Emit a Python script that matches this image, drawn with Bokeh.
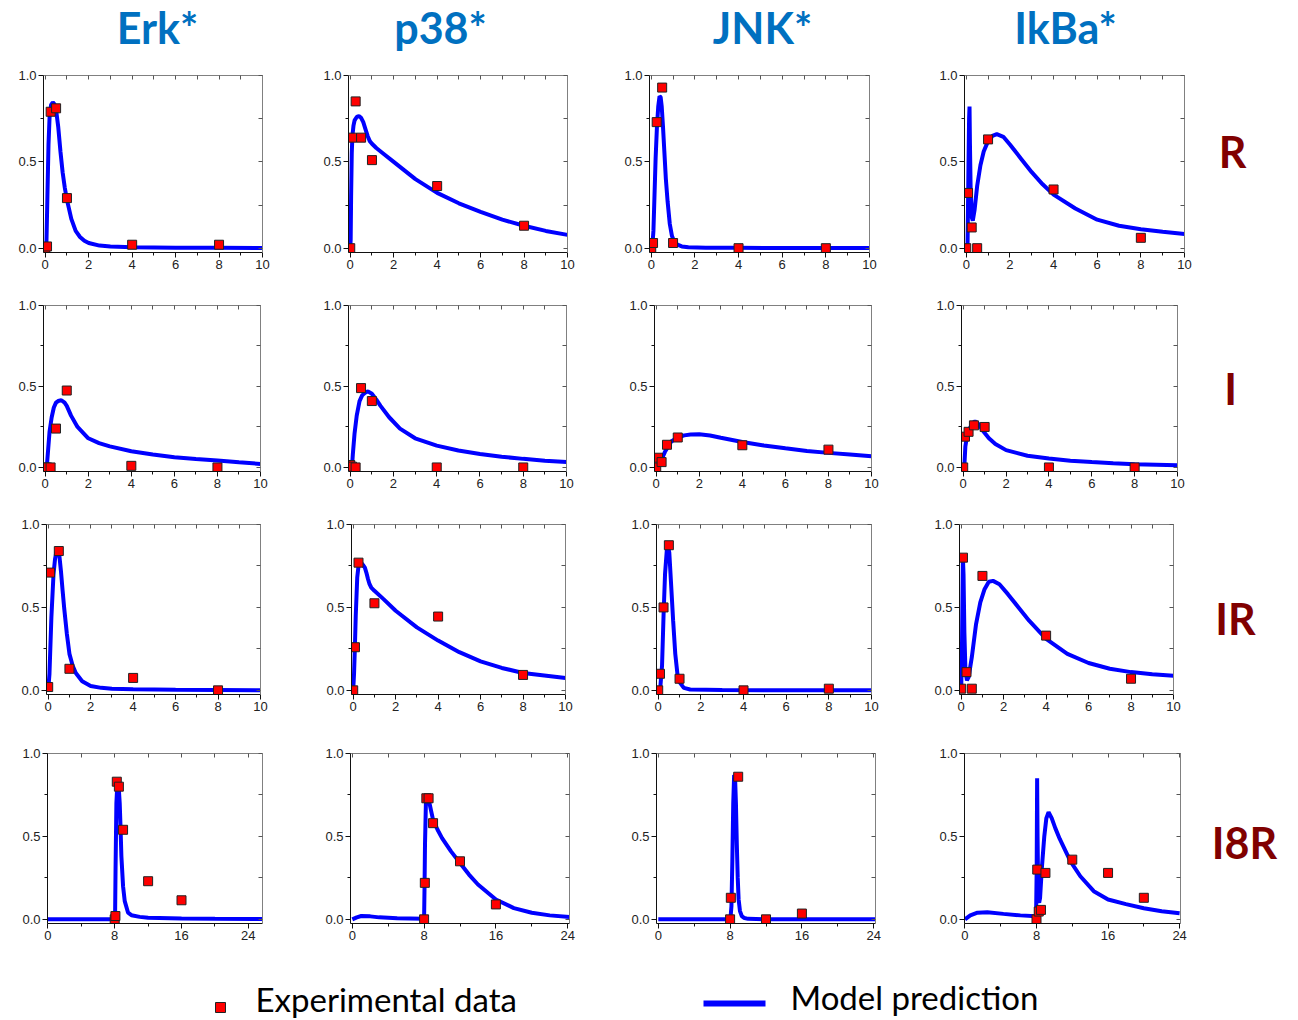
from bokeh.plotting import figure
from bokeh.layouts import row, column
from bokeh.models import Range1d, FixedTicker, LinearAxis, NumeralTickFormatter
from bokeh.core.properties import value
from bokeh.embed import file_html
from bokeh.resources import INLINE

# ---------------- data ----------------
PROTEINS = ["Erk*", "p38*", "JNK*", "IkBa*"]
CONDITIONS = ["R", "I", "IR", "I8R"]
X_TICKS_SHORT = [0, 2, 4, 6, 8, 10]
X_MINOR_SHORT = [1, 3, 5, 7, 9]
X_TICKS_LONG = [0, 8, 16, 24]
X_MINOR_LONG = [4, 12, 20]
Y_TICKS = [0, 0.5, 1.0]
Y_MINOR = [0.25, 0.75]

T_STD = [0, 0.083, 0.25, 0.5, 1, 4, 8]

# --- R ---
ERK_R_Y = [0.0, 0.01, 0.79, 0.81, 0.29, 0.02, 0.02]
P38_R_Y = [0.0, 0.64, 0.85, 0.64, 0.51, 0.36, 0.13]
JNK_R_Y = [0.0, 0.03, 0.73, 0.93, 0.03, 0.0, 0.0]
IKBA_R_Y = [0.0, 0.32, 0.12, 0.0, 0.63, 0.34, 0.06]

ERK_R_CT = [0, 0.05, 0.1, 0.15, 0.2, 0.27, 0.35, 0.42, 0.5, 0.6, 0.7, 0.8, 0.9, 1.0, 1.2, 1.4, 1.6, 1.8, 2.0, 2.5, 3.0, 4.0, 6.0, 8.0, 10.0]
ERK_R_CY = [0, 0.0, 0.3, 0.6, 0.76, 0.83, 0.845, 0.835, 0.80, 0.70, 0.56, 0.44, 0.35, 0.28, 0.17, 0.10, 0.065, 0.043, 0.03, 0.015, 0.01, 0.006, 0.003, 0.002, 0.001]
P38_R_CT = [0, 0.02, 0.04, 0.07, 0.1, 0.15, 0.2, 0.3, 0.4, 0.5, 0.6, 0.7, 0.8, 0.9, 1.0, 1.2, 1.5, 2, 3, 4, 5, 6, 7, 8, 9, 10]
P38_R_CY = [0, 0.05, 0.3, 0.55, 0.65, 0.71, 0.74, 0.76, 0.765, 0.755, 0.73, 0.69, 0.65, 0.62, 0.605, 0.58, 0.55, 0.50, 0.40, 0.32, 0.26, 0.21, 0.165, 0.13, 0.10, 0.077]
JNK_R_CT = [0, 0.05, 0.1, 0.15, 0.2, 0.26, 0.32, 0.38, 0.43, 0.48, 0.54, 0.6, 0.67, 0.75, 0.85, 0.95, 1.05, 1.2, 1.4, 1.7, 2.5, 4, 6, 8, 10]
JNK_R_CY = [0, 0.01, 0.1, 0.31, 0.52, 0.7, 0.82, 0.88, 0.875, 0.82, 0.70, 0.56, 0.40, 0.27, 0.14, 0.07, 0.04, 0.02, 0.01, 0.005, 0.003, 0.002, 0.001, 0.001, 0.001]
IKBA_R_CT = [0, 0.06, 0.1, 0.13, 0.15, 0.17, 0.2, 0.25, 0.3, 0.38, 0.5, 0.65, 0.8, 1.0, 1.2, 1.4, 1.7, 2.0, 2.5, 3.0, 3.5, 4.0, 5.0, 6.0, 7.0, 8.0, 9.0, 10.0]
IKBA_R_CY = [0, 0.02, 0.45, 0.75, 0.82, 0.6, 0.35, 0.18, 0.16, 0.22, 0.36, 0.48, 0.56, 0.62, 0.65, 0.66, 0.645, 0.60, 0.52, 0.44, 0.37, 0.31, 0.23, 0.165, 0.13, 0.11, 0.095, 0.082]

# --- I ---
ERK_I_Y = [0.0, 0.0, 0.0, 0.24, 0.475, 0.01, 0.0]
P38_I_Y = [0.015, 0.005, 0.0, 0.49, 0.41, 0.0, 0.0]
JNK_I_Y = [0.0, 0.06, 0.033, 0.14, 0.185, 0.137, 0.11]
IKBA_I_Y = [0.0, 0.19, 0.22, 0.26, 0.25, 0.0, 0.0]

ERK_I_CT = [0, 0.07, 0.1, 0.2, 0.3, 0.4, 0.5, 0.6, 0.75, 0.9, 1.0, 1.2, 1.5, 2.0, 2.5, 3, 4, 5, 6, 7, 8, 9, 10]
ERK_I_CY = [0, 0.0, 0.05, 0.22, 0.31, 0.37, 0.40, 0.41, 0.415, 0.40, 0.38, 0.32, 0.25, 0.18, 0.15, 0.13, 0.10, 0.08, 0.063, 0.052, 0.043, 0.032, 0.022]
P38_I_CT = [0, 0.08, 0.12, 0.2, 0.3, 0.43, 0.55, 0.67, 0.82, 1.0, 1.2, 1.4, 1.8, 2.3, 3, 4, 5, 6, 7, 8, 9, 10]
P38_I_CY = [0, 0.0, 0.08, 0.21, 0.32, 0.41, 0.445, 0.46, 0.47, 0.455, 0.42, 0.38, 0.31, 0.24, 0.18, 0.135, 0.105, 0.083, 0.066, 0.053, 0.042, 0.033]
JNK_I_CT = [0, 0.1, 0.2, 0.4, 0.7, 1.0, 1.3, 1.6, 2.0, 2.5, 3, 4, 5, 6, 7, 8, 9, 10]
JNK_I_CY = [0, 0.015, 0.035, 0.095, 0.16, 0.185, 0.198, 0.203, 0.205, 0.197, 0.183, 0.157, 0.136, 0.118, 0.102, 0.09, 0.08, 0.069]
IKBA_I_CT = [0, 0.05, 0.1, 0.2, 0.34, 0.45, 0.55, 0.7, 0.9, 1.2, 1.5, 2, 3, 4, 5, 6, 7, 8, 9, 10]
IKBA_I_CY = [0, 0.0, 0.13, 0.21, 0.25, 0.275, 0.285, 0.27, 0.23, 0.18, 0.145, 0.107, 0.072, 0.055, 0.042, 0.033, 0.026, 0.02, 0.017, 0.014]

# --- IR ---
ERK_IR_T = [0, 0.083, 0.5, 1, 4, 8]
ERK_IR_Y = [0.02, 0.71, 0.84, 0.13, 0.075, 0.0]
P38_IR_T = [0, 0.083, 0.25, 1, 4, 8]
P38_IR_Y = [0.0, 0.26, 0.77, 0.525, 0.445, 0.093]
JNK_IR_Y = [0.0, 0.10, 0.5, 0.875, 0.07, 0.0, 0.01]
IKBA_IR_Y = [0.01, 0.80, 0.11, 0.01, 0.69, 0.33, 0.07]

ERK_IR_CT = [0, 0.06, 0.15, 0.25, 0.32, 0.38, 0.45, 0.52, 0.6, 0.68, 0.75, 0.88, 1.0, 1.15, 1.3, 1.6, 2.0, 2.5, 3, 4, 6, 8, 10]
ERK_IR_CY = [0, 0.1, 0.44, 0.70, 0.79, 0.83, 0.84, 0.82, 0.72, 0.6, 0.5, 0.34, 0.22, 0.15, 0.105, 0.055, 0.026, 0.015, 0.01, 0.006, 0.003, 0.002, 0.001]
P38_IR_CT = [0, 0.04, 0.08, 0.12, 0.19, 0.25, 0.31, 0.4, 0.46, 0.55, 0.62, 0.7, 0.77, 0.85, 1.0, 1.43, 2, 3, 4, 5, 6, 7, 8, 9, 10]
P38_IR_CY = [0, 0.1, 0.26, 0.45, 0.68, 0.75, 0.76, 0.765, 0.757, 0.74, 0.71, 0.67, 0.64, 0.62, 0.60, 0.55, 0.48, 0.38, 0.30, 0.23, 0.175, 0.135, 0.105, 0.09, 0.075]
JNK_IR_CT = [0, 0.1, 0.18, 0.25, 0.32, 0.4, 0.46, 0.52, 0.6, 0.7, 0.8, 0.9, 1.0, 1.2, 1.5, 3, 6, 10]
JNK_IR_CY = [0, 0.02, 0.15, 0.45, 0.7, 0.84, 0.87, 0.83, 0.65, 0.42, 0.22, 0.1, 0.05, 0.015, 0.005, 0.002, 0.001, 0.001]
IKBA_IR_CT = [0, 0.04, 0.08, 0.11, 0.15, 0.2, 0.27, 0.35, 0.5, 0.7, 0.9, 1.1, 1.3, 1.5, 1.8, 2.2, 2.7, 3.2, 4, 5, 6, 7, 8, 9, 10]
IKBA_IR_CY = [0, 0.3, 0.8, 0.7, 0.35, 0.12, 0.06, 0.08, 0.2, 0.4, 0.53, 0.61, 0.655, 0.66, 0.64, 0.58, 0.5, 0.42, 0.31, 0.22, 0.165, 0.13, 0.11, 0.097, 0.088]

# --- I8R ---
T_I8R = [8, 8.083, 8.25, 8.5, 9, 12, 16]
ERK_I8R_Y = [0.0, 0.02, 0.83, 0.80, 0.54, 0.23, 0.115]
P38_I8R_Y = [0.0, 0.22, 0.73, 0.73, 0.58, 0.35, 0.09]
JNK_I8R_T = [8, 8.083, 8.9, 12, 16]
JNK_I8R_Y = [0.0, 0.13, 0.86, 0.0, 0.035]
IKBA_I8R_T = [8, 8.083, 8.25, 8.5, 9, 12, 16, 20]
IKBA_I8R_Y = [0.0, 0.30, 0.047, 0.057, 0.28, 0.36, 0.28, 0.13]

ERK_I8R_CT = [0, 8, 8.05, 8.1, 8.2, 8.3, 8.4, 8.5, 8.6, 8.7, 8.8, 9.0, 9.2, 9.6, 10, 11, 12, 16, 20, 26]
ERK_I8R_CY = [0, 0.0, 0.05, 0.3, 0.7, 0.8, 0.81, 0.78, 0.7, 0.55, 0.38, 0.2, 0.11, 0.04, 0.025, 0.015, 0.01, 0.005, 0.003, 0.002]
P38_I8R_CT = [0, 0.5, 1, 2, 3, 5, 7.9, 8.0, 8.05, 8.1, 8.2, 8.3, 8.45, 8.6, 8.8, 9, 9.5, 10, 11, 12, 13, 14, 16, 18, 20, 22, 24.2]
P38_I8R_CY = [0, 0.012, 0.02, 0.018, 0.012, 0.007, 0.004, 0.01, 0.2, 0.45, 0.7, 0.75, 0.74, 0.70, 0.65, 0.60, 0.54, 0.49, 0.41, 0.34, 0.27, 0.21, 0.12, 0.068, 0.04, 0.024, 0.014]
JNK_I8R_CT = [0, 7.95, 8.05, 8.15, 8.25, 8.35, 8.45, 8.55, 8.65, 8.75, 8.85, 8.95, 9.1, 9.3, 9.6, 10, 12, 24.2]
JNK_I8R_CY = [0, 0.0, 0.01, 0.08, 0.35, 0.7, 0.87, 0.86, 0.7, 0.45, 0.25, 0.12, 0.05, 0.02, 0.008, 0.003, 0.001, 0.001]
IKBA_I8R_CT = [0, 0.6, 1.4, 2.5, 4.3, 6.2, 7.95, 8.02, 8.07, 8.12, 8.18, 8.23, 8.3, 8.4, 8.6, 8.87, 9.1, 9.35, 9.7, 10.1, 10.6, 11.8, 12.9, 14.4, 16, 18, 20, 22, 24]
IKBA_I8R_CY = [0, 0.024, 0.04, 0.043, 0.033, 0.024, 0.018, 0.3, 0.85, 0.5, 0.2, 0.11, 0.1, 0.13, 0.31, 0.5, 0.61, 0.646, 0.61, 0.55, 0.485, 0.35, 0.26, 0.17, 0.12, 0.092, 0.067, 0.049, 0.037]

LEGEND_LABELS = ["Experimental data", "Model prediction"]

# ---------------- styling / layout ----------------
BLUE = "#0000FF"
RED = "#FF0000"
TITLE_BLUE = "#0070C0"
COND_RED = "#800000"
TICK_FONT = "Liberation Sans"

COL_W = [300, 305, 310, 285]
LABEL_W = 90
ROW_H = [210, 226, 221, 228]
ROW_TOP = [65, 275, 501, 722]
HEADER_H = 65
LEGEND_H = 68
TOTAL_W = sum(COL_W) + LABEL_W


def main_axis(ticks, minor, fmt=None):
    ax = LinearAxis(ticker=FixedTicker(ticks=ticks, minor_ticks=minor),
                    major_tick_out=5, major_tick_in=0, minor_tick_out=3, minor_tick_in=0,
                    axis_line_color="#111111", major_tick_line_color="#111111",
                    minor_tick_line_color="#111111",
                    major_label_text_font=TICK_FONT, major_label_text_font_size="13px",
                    major_label_text_color="#222222", major_label_standoff=2)
    if fmt is not None:
        ax.formatter = fmt
    return ax


def frame_axis(ticks):
    return LinearAxis(ticker=FixedTicker(ticks=ticks),
                      major_tick_out=0, major_tick_in=4, minor_tick_out=0, minor_tick_in=0,
                      axis_line_color="#808080", major_tick_line_color="#555555",
                      major_label_text_font_size="1px", major_label_text_color=None,
                      major_label_standoff=0)


def make_panel(w, h, borders, xr, long_axis, dt, dy, ct, cy):
    l, r, t, b = borders
    p = figure(width=w, height=h, x_range=Range1d(*xr), y_range=Range1d(-0.025, 1.0),
               output_backend="svg", toolbar_location=None,
               x_axis_type=None, y_axis_type=None,
               min_border_left=l, min_border_right=r, min_border_top=t, min_border_bottom=b)
    p.outline_line_color = None
    p.background_fill_color = "white"
    p.border_fill_color = "white"
    xt, xm = (X_TICKS_LONG, X_MINOR_LONG) if long_axis else (X_TICKS_SHORT, X_MINOR_SHORT)
    p.add_layout(main_axis(xt, xm), "below")
    p.add_layout(main_axis(Y_TICKS, Y_MINOR, NumeralTickFormatter(format="0.0")), "left")
    p.add_layout(frame_axis(sorted(xt + xm)), "above")
    p.add_layout(frame_axis(sorted(Y_TICKS + Y_MINOR)), "right")
    p.line(ct, cy, line_color=BLUE, line_width=4)
    p.scatter(dt, dy, marker="square", size=9, fill_color=RED, line_color="#222222", line_width=1)
    return p


def text_fig(w, h, x0, x1, y0, y1):
    p = figure(width=w, height=h, x_range=Range1d(x0, x1), y_range=Range1d(y1, y0),
               output_backend="svg", toolbar_location=None,
               x_axis_type=None, y_axis_type=None, min_border=0)
    p.outline_line_color = None
    p.grid.visible = False
    return p


# header with protein names
header = text_fig(TOTAL_W, HEADER_H, 0, TOTAL_W, 0, HEADER_H)
header.text(x=[157, 440, 762, 1065], y=[27, 27, 27, 27], text=PROTEINS,
            text_font=value("Lato"), text_font_style="bold", text_font_size="43px",
            text_color=TITLE_BLUE, text_align="center", text_baseline="middle")

SHORT = (-0.08, 10)
panels_spec = [
    # row R
    [((43, 38, 10, 23), SHORT, False, T_STD, ERK_R_Y, ERK_R_CT, ERK_R_CY),
     ((48, 38, 10, 23), SHORT, False, T_STD, P38_R_Y, P38_R_CT, P38_R_CY),
     ((44, 46, 10, 23), SHORT, False, T_STD, JNK_R_Y, JNK_R_CT, JNK_R_CY),
     ((49, 16, 10, 23), SHORT, False, T_STD, IKBA_R_Y, IKBA_R_CT, IKBA_R_CY)],
    # row I
    [((43, 40, 23, 30), SHORT, False, T_STD, ERK_I_Y, ERK_I_CT, ERK_I_CY),
     ((48, 39, 23, 30), SHORT, False, T_STD, P38_I_Y, P38_I_CT, P38_I_CY),
     ((49, 44, 27, 25), SHORT, False, T_STD, JNK_I_Y, JNK_I_CT, JNK_I_CY),
     ((46, 23, 30, 22), SHORT, False, T_STD, IKBA_I_Y, IKBA_I_CT, IKBA_I_CY)],
    # row IR
    [((46, 40, 20, 28), SHORT, False, ERK_IR_T, ERK_IR_Y, ERK_IR_CT, ERK_IR_CY),
     ((51, 40, 20, 28), SHORT, False, P38_IR_T, P38_IR_Y, P38_IR_CT, P38_IR_CY),
     ((51, 44, 23, 26), SHORT, False, T_STD, JNK_IR_Y, JNK_IR_CT, JNK_IR_CY),
     ((44, 27, 22, 26), SHORT, False, T_STD, IKBA_IR_Y, IKBA_IR_CT, IKBA_IR_CY)],
    # row I8R
    [((47, 38, 27, 27), (-0.05, 25.7), True, T_I8R, ERK_I8R_Y, ERK_I8R_CT, ERK_I8R_CY),
     ((50, 36, 30, 24), (-0.2, 24.2), True, T_I8R, P38_I8R_Y, P38_I8R_CT, P38_I8R_CY),
     ((51, 40, 30, 24), (-0.2, 24.2), True, JNK_I8R_T, JNK_I8R_Y, JNK_I8R_CT, JNK_I8R_CY),
     ((49, 20, 31, 24), (-0.05, 24.1), True, IKBA_I8R_T, IKBA_I8R_Y, IKBA_I8R_CT, IKBA_I8R_CY)],
]
LABEL_POS = [(1232, 155), (1230, 388), (1235, 623), (1244, 842)]

rows = []
for ri, specs in enumerate(panels_spec):
    figs = []
    for ci, (borders, xr, long_axis, dt, dy, ct, cy) in enumerate(specs):
        figs.append(make_panel(COL_W[ci], ROW_H[ri], borders, xr, long_axis, dt, dy, ct, cy))
    x0 = sum(COL_W)
    lab = text_fig(LABEL_W, ROW_H[ri], x0, x0 + LABEL_W, ROW_TOP[ri], ROW_TOP[ri] + ROW_H[ri])
    lx, ly = LABEL_POS[ri]
    lab.text(x=[lx], y=[ly], text=[CONDITIONS[ri]], text_font=value("Lato"),
             text_font_style="bold", text_font_size="43px", text_color=COND_RED,
             text_align="center", text_baseline="middle")
    figs.append(lab)
    rows.append(row(figs, spacing=0))

# legend
leg_top = ROW_TOP[-1] + ROW_H[-1]
legend = text_fig(TOTAL_W, LEGEND_H, 0, TOTAL_W, leg_top, leg_top + LEGEND_H)
legend.scatter([220], [1007], marker="square", size=10, fill_color=RED, line_color="#222222", line_width=1)
legend.line([703, 765], [1003, 1003], line_color=BLUE, line_width=6)
legend.text(x=[255, 790], y=[998, 996], text=LEGEND_LABELS, text_font=value("Lato"),
            text_font_size="33px", text_color="black", text_align="left", text_baseline="middle")

layout = column([header] + rows + [legend], spacing=0)

open("out.html", "w").write(file_html(layout, INLINE))
